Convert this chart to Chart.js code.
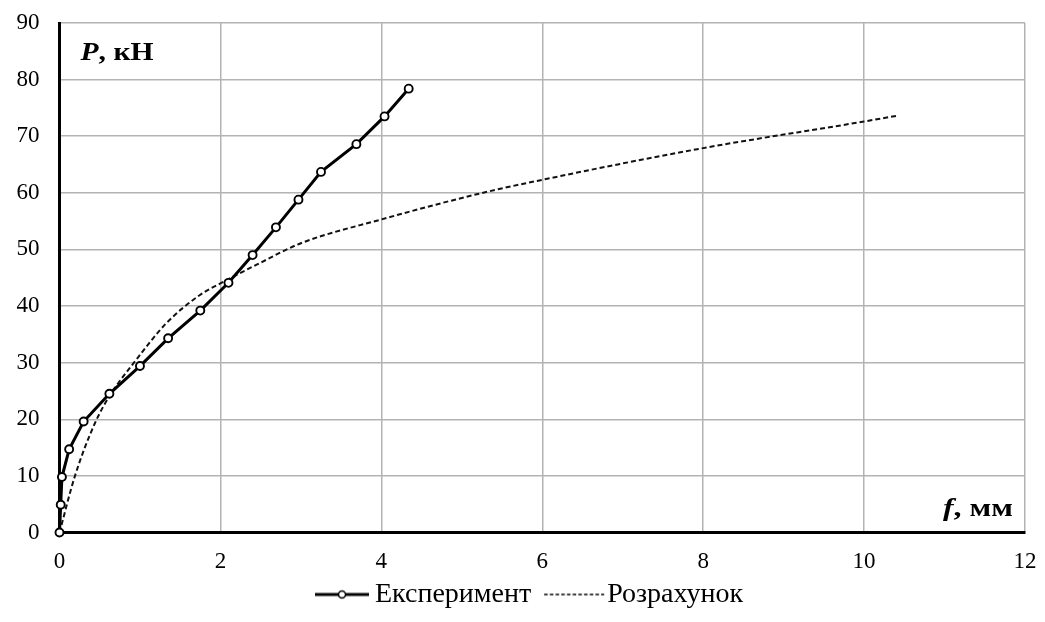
<!DOCTYPE html>
<html>
<head>
<meta charset="utf-8">
<script src="https://cdn.jsdelivr.net/npm/chart.js@4/dist/chart.umd.min.js"></script>
<style>
  html, body { margin: 0; padding: 0; background: #fff; }
  #wrap { width: 1045px; height: 622px; position: relative; }
</style>
</head>
<body>
<div id="wrap"><canvas id="c" width="1045" height="622"></canvas></div>
<script>
// ---- Data ----
const seriesNames = ['Експеримент', 'Розрахунок'];
const expF = [0, 0.015, 0.03, 0.12, 0.30, 0.62, 1.00, 1.35, 1.75, 2.10, 2.40, 2.69, 2.97, 3.25, 3.69, 4.04, 4.34];
const expP = [0, 4.9, 9.8, 14.7, 19.6, 24.5, 29.4, 34.3, 39.2, 44.1, 49.0, 53.9, 58.8, 63.7, 68.6, 73.5, 78.4];
const calcF = [0, 0.19, 0.44, 0.63, 0.92, 1.33, 1.75, 2.00, 2.45, 3.00, 4.00, 5.23, 6.00, 8.00, 10.00, 10.40];
const calcP = [0, 9.9, 19.3, 24.3, 29.9, 37.0, 42.0, 44.0, 47.3, 51.1, 55.3, 59.9, 62.3, 67.9, 72.6, 73.6];
const xTicks = [0, 2, 4, 6, 8, 10, 12];
const yTicks = [0, 10, 20, 30, 40, 50, 60, 70, 80, 90];
const yTitle = ['P', ', кН'];
const xTitle = ['f', ', мм'];

const FONT = '"Liberation Serif", "Times New Roman", serif';
const LEG_FS = 28;
const PSW = 56;               // legend box width
const TXT_OFF = PSW + LEG_FS / 2;  // text start relative to item x

function pts(xs, ys) { return xs.map((x, i) => ({ x: x, y: ys[i] })); }

// legend icons: image is centred at item.x + PSW/2
function makeIcon(symStart, symEnd, drawFn) {
  const cx = PSW / 2;
  const half = Math.max(cx - symStart, symEnd - cx) + 1;
  const c = document.createElement('canvas');
  c.width = Math.ceil(half * 2); c.height = 14;
  const g = c.getContext('2d');
  const off = half - cx;
  drawFn(g, symStart + off, symEnd + off, 7);
  return c;
}
const icons = [
  makeIcon(TXT_OFF - 60, TXT_OFF - 6, (g, a, b, y) => {
    g.strokeStyle = '#000'; g.lineWidth = 3;
    g.beginPath(); g.moveTo(a, y); g.lineTo(b, y); g.stroke();
    g.fillStyle = '#fff'; g.lineWidth = 1.5;
    g.beginPath(); g.arc((a + b) / 2, y, 3.5, 0, Math.PI * 2); g.fill(); g.stroke();
  }),
  makeIcon(TXT_OFF - 63, TXT_OFF - 3, (g, a, b, y) => {
    g.strokeStyle = '#000'; g.lineWidth = 1.5; g.setLineDash([3.5, 2.2]);
    g.beginPath(); g.moveTo(a, y); g.lineTo(b, y); g.stroke();
  })
];

function drawTitle(ctx, parts, x, y, size, targetW, alignRight) {
  ctx.font = 'italic bold ' + size + 'px ' + FONT;
  const w0 = ctx.measureText(parts[0]).width;
  ctx.font = 'bold ' + size + 'px ' + FONT;
  const w1 = ctx.measureText(parts[1]).width;
  const sx = targetW / (w0 + w1);
  ctx.save();
  const left = alignRight ? x - targetW : x;
  ctx.translate(left, y);
  ctx.scale(sx, 1);
  ctx.font = 'italic bold ' + size + 'px ' + FONT;
  ctx.fillText(parts[0], 0, 0);
  ctx.font = 'bold ' + size + 'px ' + FONT;
  ctx.fillText(parts[1], w0, 0);
  ctx.restore();
}

const axisTitles = {
  id: 'axisTitles',
  afterDraw(chart) {
    const { ctx, chartArea: a } = chart;
    ctx.save();
    ctx.fillStyle = '#000';
    ctx.textBaseline = 'alphabetic';
    ctx.textAlign = 'left';
    drawTitle(ctx, yTitle, a.left + 21, a.top + 37, 26, 73, false);
    drawTitle(ctx, xTitle, a.right - 12, a.bottom - 16.5, 26, 70, true);
    ctx.restore();
  }
};

new Chart(document.getElementById('c'), {
  type: 'scatter',
  data: {
    datasets: [
      {
        label: seriesNames[0],
        data: pts(expF, expP),
        showLine: true,
        borderColor: '#000',
        borderWidth: 3,
        pointRadius: 4,
        pointBorderWidth: 1.9,
        pointBackgroundColor: '#fff',
        pointBorderColor: '#000',
        clip: false,
        order: 0
      },
      {
        label: seriesNames[1],
        data: pts(calcF, calcP),
        showLine: true,
        borderColor: '#111',
        borderWidth: 2,
        borderDash: [5, 3],
        pointRadius: 0,
        cubicInterpolationMode: 'monotone',
        order: 1
      }
    ]
  },
  options: {
    responsive: false,
    animation: false,
    devicePixelRatio: 1,
    layout: { padding: { left: 16, right: 13, top: 23, bottom: 3.5 } },
    scales: {
      x: {
        type: 'linear', min: 0, max: 12,
        afterBuildTicks(s) { s.ticks = xTicks.map(v => ({ value: v })); },
        afterFit(s) { s.height = 42; s.paddingLeft = 0; s.paddingRight = 0; },
        grid: { color: '#b3b3b3', lineWidth: 1.5, drawTicks: false },
        border: { color: '#000', width: 3 },
        ticks: { color: '#000', padding: 15.7, maxRotation: 0, font: { family: FONT, size: 23 } }
      },
      y: {
        type: 'linear', min: 0, max: 90,
        afterBuildTicks(s) { s.ticks = yTicks.map(v => ({ value: v })); },
        afterFit(s) { s.width = 43.5; s.paddingTop = 0; s.paddingBottom = 0; },
        grid: { color: '#b3b3b3', lineWidth: 1.5, drawTicks: false },
        border: { color: '#000', width: 3 },
        ticks: { color: '#000', padding: 20, font: { family: FONT, size: 23 } }
      },
      yRight: {
        type: 'linear', position: 'right', min: 0, max: 90,
        afterFit(s) { s.width = 7; s.paddingTop = 0; s.paddingBottom = 0; },
        grid: { display: false, drawOnChartArea: false },
        border: { display: false },
        ticks: { display: false }
      }
    },
    plugins: {
      tooltip: { enabled: false },
      legend: {
        position: 'bottom',
        labels: {
          usePointStyle: true,
          pointStyleWidth: PSW,
          padding: 6,
          color: '#000',
          font: { family: FONT, size: LEG_FS },
          generateLabels(chart) {
            const items = Chart.defaults.plugins.legend.labels.generateLabels(chart);
            items.forEach((it, i) => { it.pointStyle = icons[i]; });
            return items;
          }
        }
      }
    }
  },
  plugins: [axisTitles]
});
</script>
</body>
</html>
